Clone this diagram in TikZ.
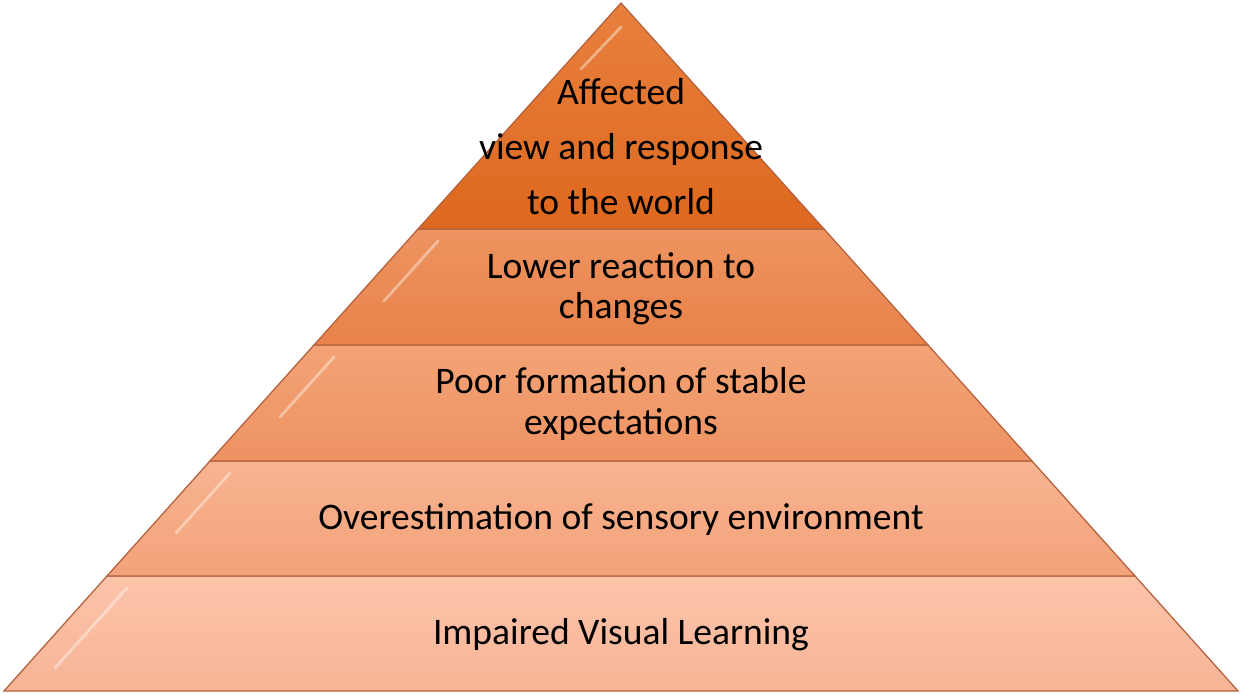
\documentclass[tikz,border=0pt]{standalone}
\usepackage{fontspec}
\setmainfont{Carlito}
\definecolor{rimbrown}{RGB}{178,98,62}
\definecolor{tierfivetop}{RGB}{232,128,62}
\definecolor{tierfivebot}{RGB}{222,104,30}
\definecolor{tierfourtop}{RGB}{238,148,96}
\definecolor{tierfourbot}{RGB}{232,130,74}
\definecolor{tierthreetop}{RGB}{243,163,118}
\definecolor{tierthreebot}{RGB}{238,146,98}
\definecolor{tiertwotop}{RGB}{248,180,144}
\definecolor{tiertwobot}{RGB}{243,162,122}
\definecolor{tieronetop}{RGB}{252,196,170}
\definecolor{tieronebot}{RGB}{247,180,150}
\begin{document}
\begin{tikzpicture}[x=0.025cm,y=-0.025cm,
    tier/.style={draw=rimbrown, line width=0.9pt, line join=miter},
    gleam/.style={draw=white, opacity=0.4, line width=2pt, line cap=round},
    caption/.style={font=\fontsize{26.7}{28.5}\selectfont, align=center, text=black}]
  \useasboundingbox (0,0) rectangle (1242,694);
  % corners of the tiers
  \coordinate (apex) at (621,3);
  \coordinate (l1) at (418,229);  \coordinate (r1) at (824,229);
  \coordinate (l2) at (314,345);  \coordinate (r2) at (928,345);
  \coordinate (l3) at (210,461);  \coordinate (r3) at (1032,461);
  \coordinate (l4) at (107,576);  \coordinate (r4) at (1135,576);
  \coordinate (l5) at (4,691);    \coordinate (r5) at (1238,691);
  % tiers, bottom to top
  \draw[tier, top color=tieronetop, bottom color=tieronebot] (l4) -- (r4) -- (r5) -- (l5) -- cycle;
  \draw[tier, top color=tiertwotop, bottom color=tiertwobot] (l3) -- (r3) -- (r4) -- (l4) -- cycle;
  \draw[tier, top color=tierthreetop, bottom color=tierthreebot] (l2) -- (r2) -- (r3) -- (l3) -- cycle;
  \draw[tier, top color=tierfourtop, bottom color=tierfourbot] (l1) -- (r1) -- (r2) -- (l2) -- cycle;
  \draw[tier, top color=tierfivetop, bottom color=tierfivebot] (apex) -- (r1) -- (l1) -- cycle;
  % bevel highlights on the left slopes
  \draw[gleam] ([shift={(20,12)}]l4) -- ([shift={(-52,92)}]l4);
  \draw[gleam] ([shift={(20,12)}]l3) -- ([shift={(-34,72)}]l3);
  \draw[gleam] ([shift={(20,12)}]l2) -- ([shift={(-34,72)}]l2);
  \draw[gleam] ([shift={(20,12)}]l1) -- ([shift={(-34,72)}]l1);
  \draw[gleam] ([shift={(0,24)}]apex) -- ([shift={(-40,66)}]apex);
  % texts
  \node[caption] (learning) at (621,635) {Impaired Visual Learning};
  \node[caption] (sensory) at (621,520) {Overestimation of sensory environment};
  \node[caption] (expect) at (621,404) {Poor formation of stable\\expectations};
  \node[caption] (reaction) at (621,289) {Lower reaction to\\changes};
  \node[caption] (world) at (621,147) {Affected\\[0.4em]view and response\\[0.4em]to the world};
\end{tikzpicture}
\end{document}
